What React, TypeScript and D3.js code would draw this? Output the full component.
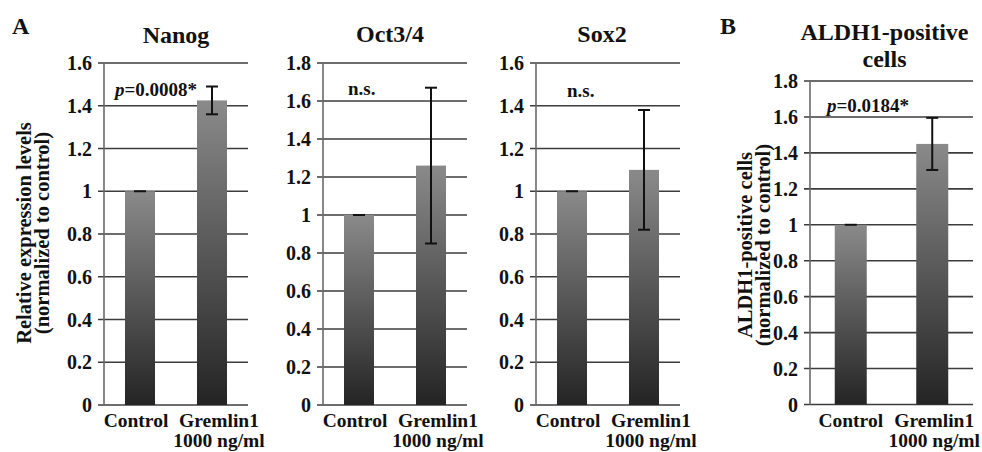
import React from "react";
import * as d3 from "d3";

const categories = ["Control", "Gremlin1"];
const categorySub = ["", "1000 ng/ml"];

const nanogMeans = [1.0, 1.425];
const nanogErrs = [0.0, 0.065];
const octMeans = [1.0, 1.26];
const octErrs = [0.0, 0.41];
const soxMeans = [1.0, 1.1];
const soxErrs = [0.0, 0.28];
const aldhMeans = [1.0, 1.45];
const aldhErrs = [0.0, 0.145];

const ticks16 = [0, 0.2, 0.4, 0.6, 0.8, 1, 1.2, 1.4, 1.6];
const ticks18 = [0, 0.2, 0.4, 0.6, 0.8, 1, 1.2, 1.4, 1.6, 1.8];

const FONT = "'Liberation Serif', 'Times New Roman', serif";

type PanelProps = {
  x0: number;
  width: number;
  top: number;
  bottom: number;
  ticks: number[];
  means: number[];
  errs: number[];
  titles: string[];
  titleY: number;
  titleDx?: number;
  note: string;
  noteItalicP: boolean;
  noteX: number;
  noteY: number;
  barWidth: number;
  labelDx: number[];
};

function Panel(p: PanelProps) {
  const yMax = p.ticks[p.ticks.length - 1];
  const y = d3.scaleLinear().domain([0, yMax]).range([p.bottom, p.top]);
  const x = d3
    .scaleBand<string>()
    .domain(categories)
    .range([p.x0, p.x0 + p.width]);
  const cx = (c: string) => (x(c) as number) + x.bandwidth() / 2;
  const fmt = (v: number) => (v === 0 ? "0" : v === 1 ? "1" : d3.format(".1f")(v));
  return (
    <g fontFamily={FONT} fontWeight="bold" fill="#111">
      {p.titles.map((t, i) => (
        <text
          key={t}
          x={p.x0 + p.width / 2 + (p.titleDx || 0)}
          y={p.titleY + i * 27}
          textAnchor="middle"
          fontSize={24}
        >
          {t}
        </text>
      ))}
      {p.ticks.map((t) => (
        <g key={t}>
          <line
            x1={p.x0 - 6}
            x2={p.x0 + p.width}
            y1={y(t)}
            y2={y(t)}
            stroke="#3c3c3c"
            strokeWidth={1.6}
          />
          <text
            x={p.x0 - 12}
            y={y(t)}
            dy="0.35em"
            textAnchor="end"
            fontSize={20}
          >
            {fmt(t)}
          </text>
        </g>
      ))}
      <line
        x1={p.x0}
        x2={p.x0}
        y1={p.top}
        y2={p.bottom}
        stroke="#6a6a6a"
        strokeWidth={1.6}
      />
      {categories.map((c, i) => (
        <g key={c}>
          <rect
            x={cx(c) - p.barWidth / 2}
            y={y(p.means[i])}
            width={p.barWidth}
            height={p.bottom - y(p.means[i])}
            fill="url(#barGrad)"
          />
          {p.errs[i] > 0 ? (
            <g stroke="#111" strokeWidth={2}>
              <line
                x1={cx(c)}
                x2={cx(c)}
                y1={y(p.means[i] + p.errs[i])}
                y2={y(p.means[i] - p.errs[i])}
              />
              <line
                x1={cx(c) - 6}
                x2={cx(c) + 6}
                y1={y(p.means[i] + p.errs[i])}
                y2={y(p.means[i] + p.errs[i])}
              />
              <line
                x1={cx(c) - 6}
                x2={cx(c) + 6}
                y1={y(p.means[i] - p.errs[i])}
                y2={y(p.means[i] - p.errs[i])}
              />
            </g>
          ) : (
            <line
              x1={cx(c) - 6}
              x2={cx(c) + 6}
              y1={y(p.means[i])}
              y2={y(p.means[i])}
              stroke="#111"
              strokeWidth={2}
            />
          )}
          <text
            x={cx(c) + p.labelDx[i]}
            y={426.5}
            textAnchor="middle"
            fontSize={19.5}
          >
            {c}
          </text>
          {categorySub[i] ? (
            <text
              x={cx(c) + p.labelDx[i]}
              y={447}
              textAnchor="middle"
              fontSize={19.5}
            >
              {categorySub[i]}
            </text>
          ) : null}
        </g>
      ))}
      <text x={p.noteX} y={p.noteY} fontSize={19}>
        {p.noteItalicP ? (
          <>
            <tspan fontStyle="italic">p</tspan>
            {p.note}
          </>
        ) : (
          p.note
        )}
      </text>
    </g>
  );
}

export default function App() {
  return (
    <svg
      width={982}
      height={452}
      style={{ position: "absolute", left: 0, top: 0, background: "#fff" }}
    >
      <defs>
        <linearGradient id="barGrad" x1="0" y1="0" x2="0" y2="1">
          <stop offset="0%" stopColor="#8a8a8a" />
          <stop offset="100%" stopColor="#242424" />
        </linearGradient>
      </defs>
      <rect width={982} height={452} fill="#fff" />
      <g fontFamily={FONT} fontWeight="bold" fill="#111">
        <text x={12} y={34} fontSize={24}>A</text>
        <text x={720} y={34} fontSize={24}>B</text>
        <text
          transform="translate(31,233) rotate(-90)"
          textAnchor="middle"
          fontSize={20.5}
        >
          Relative expression levels
        </text>
        <text
          transform="translate(49,233) rotate(-90)"
          textAnchor="middle"
          fontSize={20.5}
        >
          (normalized to control)
        </text>
        <text
          transform="translate(752,245) rotate(-90)"
          textAnchor="middle"
          fontSize={20.5}
        >
          ALDH1-positive cells
        </text>
        <text
          transform="translate(770,245) rotate(-90)"
          textAnchor="middle"
          fontSize={20.5}
        >
          (normalized to control)
        </text>
      </g>
      <Panel
        x0={104}
        width={144}
        top={63}
        bottom={405}
        ticks={ticks16}
        means={nanogMeans}
        errs={nanogErrs}
        titles={["Nanog"]}
        titleY={43}
        note="=0.0008*"
        noteItalicP={true}
        noteX={115}
        noteY={96}
        barWidth={30}
        labelDx={[-4, 7]}
      />
      <Panel
        x0={323}
        width={144}
        top={63}
        bottom={405}
        ticks={ticks18}
        means={octMeans}
        errs={octErrs}
        titles={["Oct3/4"]}
        titleY={42}
        titleDx={-5}
        note="n.s."
        noteItalicP={false}
        noteX={348}
        noteY={95}
        barWidth={30}
        labelDx={[-4, 7]}
      />
      <Panel
        x0={536}
        width={144}
        top={63}
        bottom={405}
        ticks={ticks16}
        means={soxMeans}
        errs={soxErrs}
        titles={["Sox2"]}
        titleY={42}
        titleDx={-6}
        note="n.s."
        noteItalicP={false}
        noteX={567}
        noteY={97}
        barWidth={30}
        labelDx={[-4, 7]}
      />
      <Panel
        x0={810}
        width={163}
        top={81}
        bottom={404.5}
        ticks={ticks18}
        means={aldhMeans}
        errs={aldhErrs}
        titles={["ALDH1-positive", "cells"]}
        titleY={40}
        titleDx={-7}
        note="=0.0184*"
        noteItalicP={true}
        noteX={827}
        noteY={112}
        barWidth={32}
        labelDx={[0, 2]}
      />
    </svg>
  );
}
